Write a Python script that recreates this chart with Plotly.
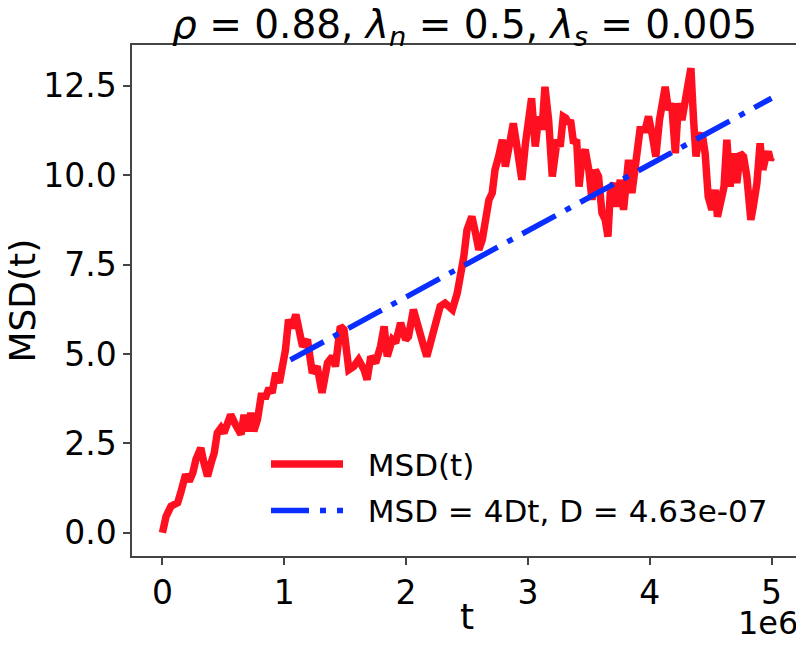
import numpy as np
import plotly.graph_objects as go

# MSD curve, t in units of 1e6
t_mega = [0, .03, .07, .125, .15, .19, .22, .25, .275, .315, .34, .37, .40, .425, .45, .48,
          .505, .535, .56, .60, .645, .67, .70, .725, .75, .78, .81, .85, .875, .90, .93, .96,
          .985, 1.01, 1.035, 1.06, 1.095, 1.12, 1.15, 1.19, 1.23, 1.27, 1.31, 1.355, 1.395,
          1.42, 1.46, 1.49, 1.53, 1.57, 1.61, 1.655, 1.68, 1.71, 1.75, 1.79, 1.82, 1.845,
          1.887, 1.914, 1.955, 1.996, 2.02, 2.06, 2.10, 2.145, 2.17, 2.215, 2.255, 2.28,
          2.32, 2.38, 2.42, 2.447, 2.474, 2.50, 2.54, 2.57, 2.597, 2.625, 2.65, 2.68, 2.707,
          2.73, 2.76, 2.79, 2.815, 2.84, 2.88, 2.91, 2.95, 2.98, 3.007, 3.03, 3.06, 3.09,
          3.115, 3.14, 3.17, 3.20, 3.24, 3.265, 3.29, 3.31, 3.335, 3.35, 3.375, 3.40, 3.42,
          3.445, 3.47, 3.50, 3.526, 3.553, 3.58, 3.608, 3.635, 3.657, 3.676, 3.703, 3.73,
          3.758, 3.785, 3.826, 3.854, 3.895, 3.92, 3.963, 3.99, 4.023, 4.05, 4.08, 4.105,
          4.127, 4.154, 4.18, 4.21, 4.236, 4.264, 4.30, 4.318, 4.338, 4.36, 4.38, 4.40, 4.43,
          4.455, 4.48, 4.51, 4.537, 4.556, 4.584, 4.61, 4.633, 4.66, 4.687, 4.715, 4.742,
          4.77, 4.797, 4.83, 4.85, 4.88, 4.906, 4.928, 4.947, 4.974, 4.99, 5.0]
msd = [0, .46, .74, .84, 1.12, 1.63, 1.44, 1.68, 2.05, 2.37, 1.96, 1.58, 1.96, 2.23, 2.79, 2.93,
       2.79, 3.07, 3.30, 3.02, 2.75, 3.30, 2.84, 3.35, 2.84, 3.16, 3.82, 3.82, 4.05, 3.91, 4.47,
       4.19, 4.56, 5.12, 5.96, 5.73, 6.10, 5.68, 5.21, 5.40, 4.47, 4.65, 3.91, 4.75, 4.93,
       4.65, 5.77, 5.68, 4.56, 4.65, 4.84, 4.56, 4.28, 4.93, 4.75, 5.21, 5.77, 4.93,
       5.40, 5.31, 5.87, 5.40, 5.49, 6.24, 5.68, 5.21, 4.93, 5.49, 5.87, 6.33,
       6.42, 6.24, 6.70, 7.17, 7.73, 8.47, 8.84, 8.38, 7.91, 8.19, 8.84, 9.31, 9.50,
       10.15, 10.52, 10.99, 10.24, 10.80, 11.45, 10.80, 9.87, 10.89, 11.73, 12.15, 10.80, 11.64,
       11.27, 12.47, 11.54, 9.96, 10.99, 10.80, 11.64, 11.60, 11.45, 11.54, 10.89, 10.99, 9.68,
       10.52, 10.71, 10.15, 9.31, 10.15, 9.96, 8.94, 8.75, 8.28, 9.50, 9.78, 9.12,
       9.87, 9.03, 10.43, 9.50, 10.89, 11.27, 11.27, 11.64, 11.08, 10.52, 11.54, 12.10,
       12.47, 11.82, 12.01, 10.61, 12.01, 11.54, 12.38, 12.47, 12.99, 11.54, 10.52, 10.99, 11.17,
       10.61, 9.40, 9.03, 9.59, 8.84, 9.22, 9.68, 10.99, 9.68, 10.61, 9.78, 10.61,
       10.52, 9.96, 8.75, 9.12, 9.78, 10.89, 10.15, 10.43, 10.66, 10.43, 10.50]

# linear fit MSD = 4Dt + c over the later part of the run
D = 4.63e-7
fit_intercept = 2.89
fit_t = [1.05e6, 5.0e6]

x_ticks = [0, 1, 2, 3, 4, 5]
y_ticks = [0.0, 2.5, 5.0, 7.5, 10.0, 12.5]

t = np.array(t_mega) * 1e6
fit_t = np.array(fit_t)
fit_msd = 4 * D * fit_t + fit_intercept

nbsp = '\u00a0'

fig = go.Figure()
fig.add_trace(go.Scatter(
    x=t, y=msd, mode='lines', name=nbsp * 2 + 'MSD(t)', legendgroup='a',
    line=dict(color='#ff1020', width=7.5),
))
fig.add_trace(go.Scatter(
    x=fit_t, y=fit_msd, mode='lines', name=nbsp * 2 + f'MSD = 4Dt, D = {D:.2e}',
    legendgroup='b',
    line=dict(color='#0a2eff', width=5.5, dash='38px,11px,6px,11px'),
))

axis_style = dict(
    showgrid=False, zeroline=False, showline=True, linecolor='#444', linewidth=1.5,
    mirror=True, ticks='outside', ticklen=7, tickwidth=1.5, tickcolor='#444',
    tickfont=dict(size=33, color='black'), automargin=False,
)

# page body keeps its default 8px margin, so the figure is 8px smaller than the window
fig.update_layout(
    width=796, height=640,
    margin=dict(l=124, r=2, t=37, b=92),
    paper_bgcolor='white', plot_bgcolor='white',
    font=dict(family='DejaVu Sans', color='black'),
    title=dict(
        text='<i>ρ</i> = 0.88, <i>λ<sub>n</sub></i> = 0.5, <i>λ<sub>s</sub></i> = 0.005',
        x=0.5735, xanchor='center', y=0.975, yanchor='middle',
        font=dict(size=39), automargin=False,
    ),
    xaxis=dict(
        range=[-0.25e6, 5.25e6],
        tickvals=[v * 1e6 for v in x_ticks], ticktext=[str(v) for v in x_ticks],
        **axis_style,
    ),
    yaxis=dict(
        range=[-0.65, 13.64],
        tickvals=y_ticks, ticktext=[f'{v:.1f}' for v in y_ticks],
        **axis_style,
    ),
    legend=dict(
        x=0.2, y=0.232, xanchor='left', yanchor='top',
        bgcolor='rgba(0,0,0,0)', font=dict(size=31),
        itemwidth=72, tracegroupgap=3,
    ),
    annotations=[
        dict(text='t', xref='paper', yref='paper', x=0.5, y=-0.119,
             xanchor='center', yanchor='middle', showarrow=False, font=dict(size=36)),
        dict(text='MSD(t)', xref='paper', yref='paper', x=-0.164, y=0.5, textangle=-90,
             xanchor='center', yanchor='middle', showarrow=False, font=dict(size=36)),
        dict(text='1e6', xref='paper', yref='paper', x=0.997, y=-0.09,
             xanchor='right', yanchor='top', showarrow=False, font=dict(size=32)),
    ],
)

fig.write_html("out.html")
